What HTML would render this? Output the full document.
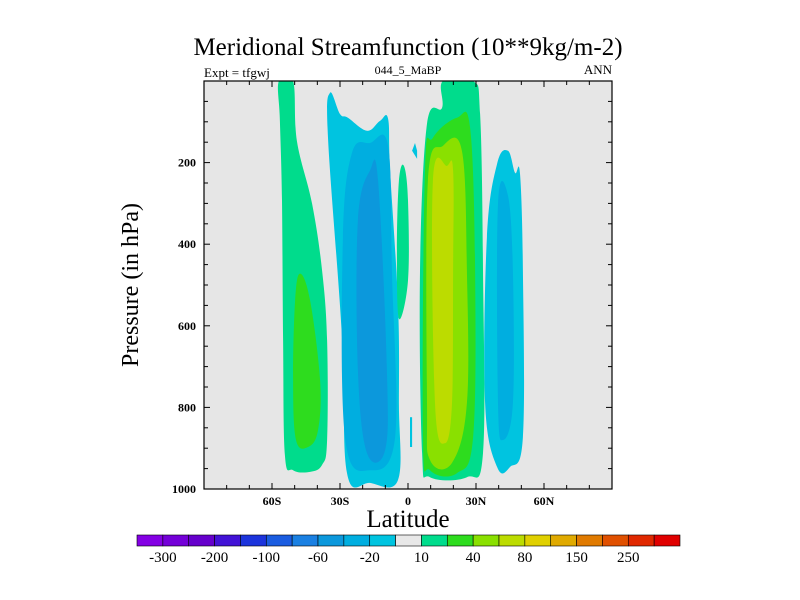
<!DOCTYPE html>
<html><head><meta charset="utf-8"><style>
body{margin:0;background:#fff;}
svg{display:block;font-family:"Liberation Serif",serif;}
</style></head><body>
<svg id="chart" width="800" height="600" viewBox="0 0 800 600">
<rect x="0" y="0" width="800" height="600" fill="#fff"/>
<text x="408" y="55" font-size="25" text-anchor="middle">Meridional Streamfunction (10**9kg/m-2)</text>
<text x="204" y="77" font-size="13">Expt = tfgwj</text>
<text x="408" y="74" font-size="12" text-anchor="middle">044_5_MaBP</text>
<text x="612" y="74" font-size="13" text-anchor="end">ANN</text>
<rect x="204" y="81" width="408" height="408" fill="#e6e6e6"/>
<g id="fields"></g>
<rect x="204" y="81" width="408" height="408" fill="none" stroke="#000" stroke-width="1.2"/>
<g id="axes"></g>
<text x="138" y="285" font-size="24" text-anchor="middle" transform="rotate(-90 138 285)">Pressure (in hPa)</text>
<text x="408" y="527" font-size="25" text-anchor="middle">Latitude</text>
<g id="colorbar"></g>
</svg>
<script>
const latTicks=[-60,-30,0,30,60];
const latTickLabels=["60S","30S","0","30N","60N"];
const presTicks=[200,400,600,800,1000];
const cbColors=['#8400e4','#7400d8','#6600cc','#4212d6','#1c34dc','#1a5ce0','#1a80e2','#0c98dc','#00aee0','#00c4e0','#e8e8e8','#00dc8c','#2edc1e','#8ae000','#bcdc00','#e0d000','#e0aa00','#e07a00','#e05000','#e02800','#e00000'];
const cbLabels=["-300","-200","-100","-60","-20","10","40","80","150","250"];
const regionA1=[[-57,0],[-50.7,0],[-49,147],[-42.3,301],[-37.9,465],[-35.7,636],[-35.7,880],[-37.9,941],[-43.2,958],[-50.7,954],[-54.3,917],[-55.1,636],[-55.6,293],[-56.5,98]];
const regionA2=[[-47.6,472],[-43.2,538],[-38.8,734],[-39.7,856],[-44.1,897],[-49.4,880],[-50.7,734],[-49.8,538]];
const regionB1=[[-34.4,29],[-30,81],[-26.5,90],[-18.1,122],[-12.4,98],[-8.8,93],[-7.9,220],[-4.4,545],[-4,790],[-4.4,978],[-16.8,985],[-26.9,961],[-29.1,628],[-35.3,139]];
const regionB2=[[-24.7,176],[-16.8,152],[-8.8,159],[-7.1,465],[-5.7,873],[-16.8,954],[-27.8,873],[-28.7,384]];
const regionB3=[[-16.8,220],[-13.2,245],[-9.3,709],[-10.1,905],[-18.1,912],[-22.1,709],[-22.1,342]];
const regionS1=[[-1.8,208],[0,293],[0,489],[-4,582],[-4.9,416],[-4,245]];
const regionS2=[[3.1,152],[4,171],[4,191],[1.8,171]];
const regionS3=[[0.9,824],[1.8,824],[1.8,897],[0.9,897]];
const regionC1=[[15.4,0],[28.7,0],[31.8,81],[33.1,465],[33.1,912],[26,971],[9.7,971],[6.2,912],[5.3,465],[8.4,105],[15,66]];
const regionC2=[[21.6,90],[27.4,115],[29.6,465],[28.7,873],[21.6,961],[9.7,954],[6.6,873],[7.5,220],[11,139]];
const regionC3=[[15.4,159],[23.8,171],[26,465],[26,790],[19.4,936],[9.7,929],[8.4,790],[8.8,245]];
const regionC4=[[17.2,208],[19.9,220],[19.9,465],[19.4,790],[16.3,888],[11.9,790],[11,245]];
const regionD1=[[44.1,171],[47.2,225],[49.4,227],[50.7,465],[50.7,873],[45,946],[39.3,946],[34,790],[34.8,384],[39.3,203]];
const regionD2=[[44.1,281],[46.3,465],[46.3,790],[41.9,880],[39.7,790],[39.7,301]];
const regions=[[11,regionA1,'region-a-10'],[12,regionA2,'region-a-40'],[9,regionB1,'region-b-neg20'],[8,regionB2,'region-b-neg60'],[7,regionB3,'region-b-neg100'],[11,regionS1,'sliver-10'],[9,regionS2,'sliver-neg20'],[9,regionS3,'line-neg20'],[11,regionC1,'region-c-10'],[12,regionC2,'region-c-40'],[13,regionC3,'region-c-80'],[14,regionC4,'region-c-150'],[9,regionD1,'region-d-neg20'],[8,regionD2,'region-d-neg60']];

const NS='http://www.w3.org/2000/svg';
const X0=204,X1=612,Y0=81,Y1=489;
const xScale=lat=>X0+(lat+90)/180*(X1-X0);
const yScale=p=>Y0+p/1000*(Y1-Y0);
function mk(tag,attrs,parent){const e=document.createElementNS(NS,tag);for(const k in attrs)e.setAttribute(k,attrs[k]);parent.appendChild(e);return e;}
function smoothPath(pts){
  const n=pts.length;if(n<5){return 'M'+pts.map(p=>p[0].toFixed(1)+','+p[1].toFixed(1)).join('L')+'Z';}
  let d='M'+pts[0][0].toFixed(1)+','+pts[0][1].toFixed(1);
  const t=0.18;
  for(let i=0;i<n;i++){
    const p0=pts[(i-1+n)%n],p1=pts[i],p2=pts[(i+1)%n],p3=pts[(i+2)%n];
    const c1=[p1[0]+(p2[0]-p0[0])*t,p1[1]+(p2[1]-p0[1])*t];
    const c2=[p2[0]-(p3[0]-p1[0])*t,p2[1]-(p3[1]-p1[1])*t];
    d+='C'+c1[0].toFixed(1)+','+c1[1].toFixed(1)+' '+c2[0].toFixed(1)+','+c2[1].toFixed(1)+' '+p2[0].toFixed(1)+','+p2[1].toFixed(1);
  }
  return d+'Z';
}
const fields=document.getElementById('fields');
mk('clipPath',{id:'pclip'},fields).appendChild(document.createElementNS(NS,'rect'));
const cr=fields.querySelector('#pclip rect');cr.setAttribute('x',X0);cr.setAttribute('y',Y0);cr.setAttribute('width',X1-X0);cr.setAttribute('height',Y1-Y0);
fields.setAttribute('clip-path','url(#pclip)');
regions.forEach(r=>{
  const pts=r[1].map(d=>[xScale(d[0]),yScale(d[1])]);
  const el=mk('path',{d:smoothPath(pts),fill:cbColors[r[0]]},fields);
  
  
});
const axes=document.getElementById('axes');
for(let lat=-80;lat<=80;lat+=10){
  const x=xScale(lat);const major=latTicks.includes(lat);const L=major?6:4;
  const t1=mk('line',{x1:x,x2:x,y1:Y1,y2:Y1-L,stroke:'#000','stroke-width':1},axes);
  
  
  const t2=mk('line',{x1:x,x2:x,y1:Y0,y2:Y0+L,stroke:'#000','stroke-width':1},axes);
  
  
}
latTicks.forEach((lat,i)=>{
  const t=mk('text',{x:xScale(lat),y:505,'font-size':12,'font-weight':'bold','text-anchor':'middle'},axes);
  t.textContent=latTickLabels[i];
  
  
});
for(let p=50;p<1000;p+=50){
  const y=yScale(p);const major=presTicks.includes(p);const L=major?6:4;
  const t1=mk('line',{x1:X0,x2:X0+L,y1:y,y2:y,stroke:'#000','stroke-width':1},axes);
  
  
  const t2=mk('line',{x1:X1,x2:X1-L,y1:y,y2:y,stroke:'#000','stroke-width':1},axes);
  
  
}
presTicks.forEach(p=>{
  const t=mk('text',{x:196,y:yScale(p)+4,'font-size':12,'font-weight':'bold','text-anchor':'end'},axes);
  t.textContent=p;
  
  
});
const cb=document.getElementById('colorbar');
const CB0=137,CBW=(680-137)/cbColors.length;
cbColors.forEach((c,i)=>{
  const r=mk('rect',{x:CB0+i*CBW,y:535,width:CBW,height:11,fill:c,stroke:'#000','stroke-width':0.6},cb);
  
  
});
cbLabels.forEach((l,i)=>{
  const t=mk('text',{x:CB0+(2*i+1)*CBW,y:562,'font-size':15,'text-anchor':'middle'},cb);
  t.textContent=l;
  
  
});
</script>
</body></html>
